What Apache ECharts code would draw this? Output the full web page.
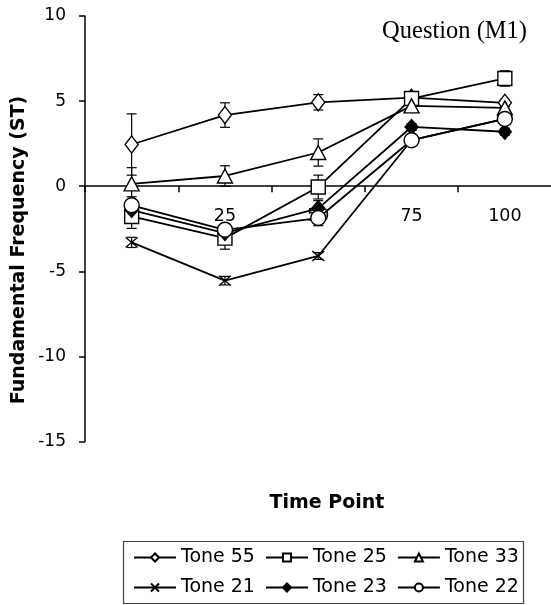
<!DOCTYPE html>
<html>
<head>
<meta charset="utf-8">
<script src="https://cdn.jsdelivr.net/npm/echarts@6/dist/echarts.min.js"></script>
<style>
html, body { margin: 0; padding: 0; background: #fff; }
#chart { width: 551px; height: 605px; }
</style>
</head>
<body>
<div id="chart"></div>
<script>
// time points (x axis)
var categories = ['0', '25', '50', '75', '100'];
var yTicks = [-15, -10, -5, 0, 5, 10];

// means (ST) and error sizes
var tone55 = [2.45, 4.18, 4.93, 5.2, 4.9];
var tone55Err = [1.8, 0.72, 0.45, 0.2, 0.2];
var tone25 = [-1.78, -3.05, -0.05, 5.15, 6.33];
var tone25Err = [0.7, 0.65, 0.7, 0.2, 0.45];
var tone33 = [0.14, 0.6, 1.98, 4.72, 4.6];
var tone33Err = [0.95, 0.6, 0.8, 0.25, 0.25];
var tone21 = [-3.3, -5.55, -4.1, 2.7, 3.95];
var tone21Err = [0.3, 0.25, 0.2, 0.2, 0.2];
var tone23 = [-1.4, -2.75, -1.3, 3.48, 3.2];
var tone23Err = [0.4, 0.3, 0.45, 0.2, 0.2];
var tone22 = [-1.12, -2.56, -1.87, 2.7, 3.95];
var tone22Err = [0.5, 0.35, 0.45, 0.25, 0.25];

var crossPath = 'path://M0,0 L10,10 M10,0 L0,10';

var tones = [
    { name: 'Tone 55', data: tone55, err: tone55Err, symbol: 'diamond', size: [13, 17], fill: '#fff' },
    { name: 'Tone 25', data: tone25, err: tone25Err, symbol: 'rect', size: [14, 14], fill: '#fff' },
    { name: 'Tone 33', data: tone33, err: tone33Err, symbol: 'triangle', size: [15, 14], fill: '#fff' },
    { name: 'Tone 21', data: tone21, err: tone21Err, symbol: crossPath, size: [12, 10], fill: '#fff' },
    { name: 'Tone 23', data: tone23, err: tone23Err, symbol: 'diamond', size: [13, 15], fill: '#000' },
    { name: 'Tone 22', data: tone22, err: tone22Err, symbol: 'circle', size: [15, 15], fill: '#fff' }
];

var font = 'DejaVu Sans';
var gridTop = 16, gridHeight = 425.5;
var myChart = echarts.init(document.getElementById('chart'));

var errData = [];
tones.forEach(function (t) {
    t.data.forEach(function (v, i) {
        errData.push([i, v - t.err[i], v + t.err[i]]);
    });
});

var series = [{
    type: 'custom',
    z: 1,
    silent: true,
    data: errData,
    renderItem: function (params, api) {
        var i = api.value(0);
        var lo = api.coord([i, api.value(1)]);
        var hi = api.coord([i, api.value(2)]);
        var w = 5;
        var st = { stroke: '#000', lineWidth: 1.2 };
        return {
            type: 'group',
            children: [
                { type: 'line', shape: { x1: lo[0], y1: lo[1], x2: hi[0], y2: hi[1] }, style: st },
                { type: 'line', shape: { x1: lo[0] - w, y1: lo[1], x2: lo[0] + w, y2: lo[1] }, style: st },
                { type: 'line', shape: { x1: hi[0] - w, y1: hi[1], x2: hi[0] + w, y2: hi[1] }, style: st }
            ]
        };
    }
}];

tones.forEach(function (t) {
    series.push({
        name: t.name,
        type: 'line',
        z: 2,
        data: t.data,
        symbol: t.symbol,
        symbolSize: t.size,
        showAllSymbol: true,
        lineStyle: { color: '#000', width: 1.8 },
        itemStyle: { color: t.fill, borderColor: '#000', borderWidth: 1.4 }
    });
});

var legendBase = {
    orient: 'horizontal',
    left: 133,
    padding: 0,
    itemWidth: 42,
    itemHeight: 10,
    itemGap: 10,
    selectedMode: false,
    textStyle: { fontFamily: font, fontSize: 19, color: '#000' }
};

// x axis sits on y = 0, like the original
var yMin = yTicks[0], yMax = yTicks[yTicks.length - 1];
var zeroOffset = gridHeight * (0 - yMin) / (yMax - yMin);

var option = {
    animation: false,
    backgroundColor: '#fff',
    grid: {
        left: 85,
        top: gridTop,
        width: 466.5,
        height: gridHeight,
        containLabel: false,
        outerBoundsMode: 'none'
    },
    xAxis: {
        type: 'category',
        data: categories,
        boundaryGap: true,
        offset: -zeroOffset,
        axisLine: { onZero: false, lineStyle: { color: '#000', width: 1.5 } },
        axisTick: { show: true, length: 6, lineStyle: { color: '#000', width: 1.5 } },
        axisLabel: { fontFamily: font, fontSize: 17.5, color: '#000', margin: 21, interval: 0 },
        splitLine: { show: false }
    },
    yAxis: {
        type: 'value',
        min: yMin,
        max: yMax,
        interval: 5,
        axisLine: { show: true, lineStyle: { color: '#000', width: 1.5 } },
        axisTick: { show: true, length: 6, lineStyle: { color: '#000', width: 1.5 } },
        axisLabel: { fontFamily: font, fontSize: 17, color: '#000', margin: 19 },
        splitLine: { show: false }
    },
    legend: [
        Object.assign({}, legendBase, { top: 548, data: ['Tone 55', 'Tone 25', 'Tone 33'] }),
        Object.assign({}, legendBase, { top: 578, data: ['Tone 21', 'Tone 23', 'Tone 22'] })
    ],
    graphic: [
        {
            type: 'text',
            x: 527, y: 32,
            style: {
                text: 'Question (M1)',
                font: '24.5px "Liberation Serif"',
                fill: '#000',
                textAlign: 'right',
                textVerticalAlign: 'middle'
            }
        },
        {
            type: 'text',
            x: 19.5, y: 250,
            rotation: Math.PI / 2,
            style: {
                text: 'Fundamental Frequency (ST)',
                font: 'bold 19px "DejaVu Sans"',
                fill: '#000',
                textAlign: 'center',
                textVerticalAlign: 'middle'
            }
        },
        {
            type: 'text',
            x: 327, y: 503,
            style: {
                text: 'Time Point',
                font: 'bold 19px "DejaVu Sans"',
                fill: '#000',
                textAlign: 'center',
                textVerticalAlign: 'middle'
            }
        },
        {
            type: 'rect',
            shape: { x: 123.5, y: 541.5, width: 400, height: 62 },
            style: { fill: 'none', stroke: '#444', lineWidth: 1.2 }
        }
    ],
    series: series
};

myChart.setOption(option);
</script>
</body>
</html>
